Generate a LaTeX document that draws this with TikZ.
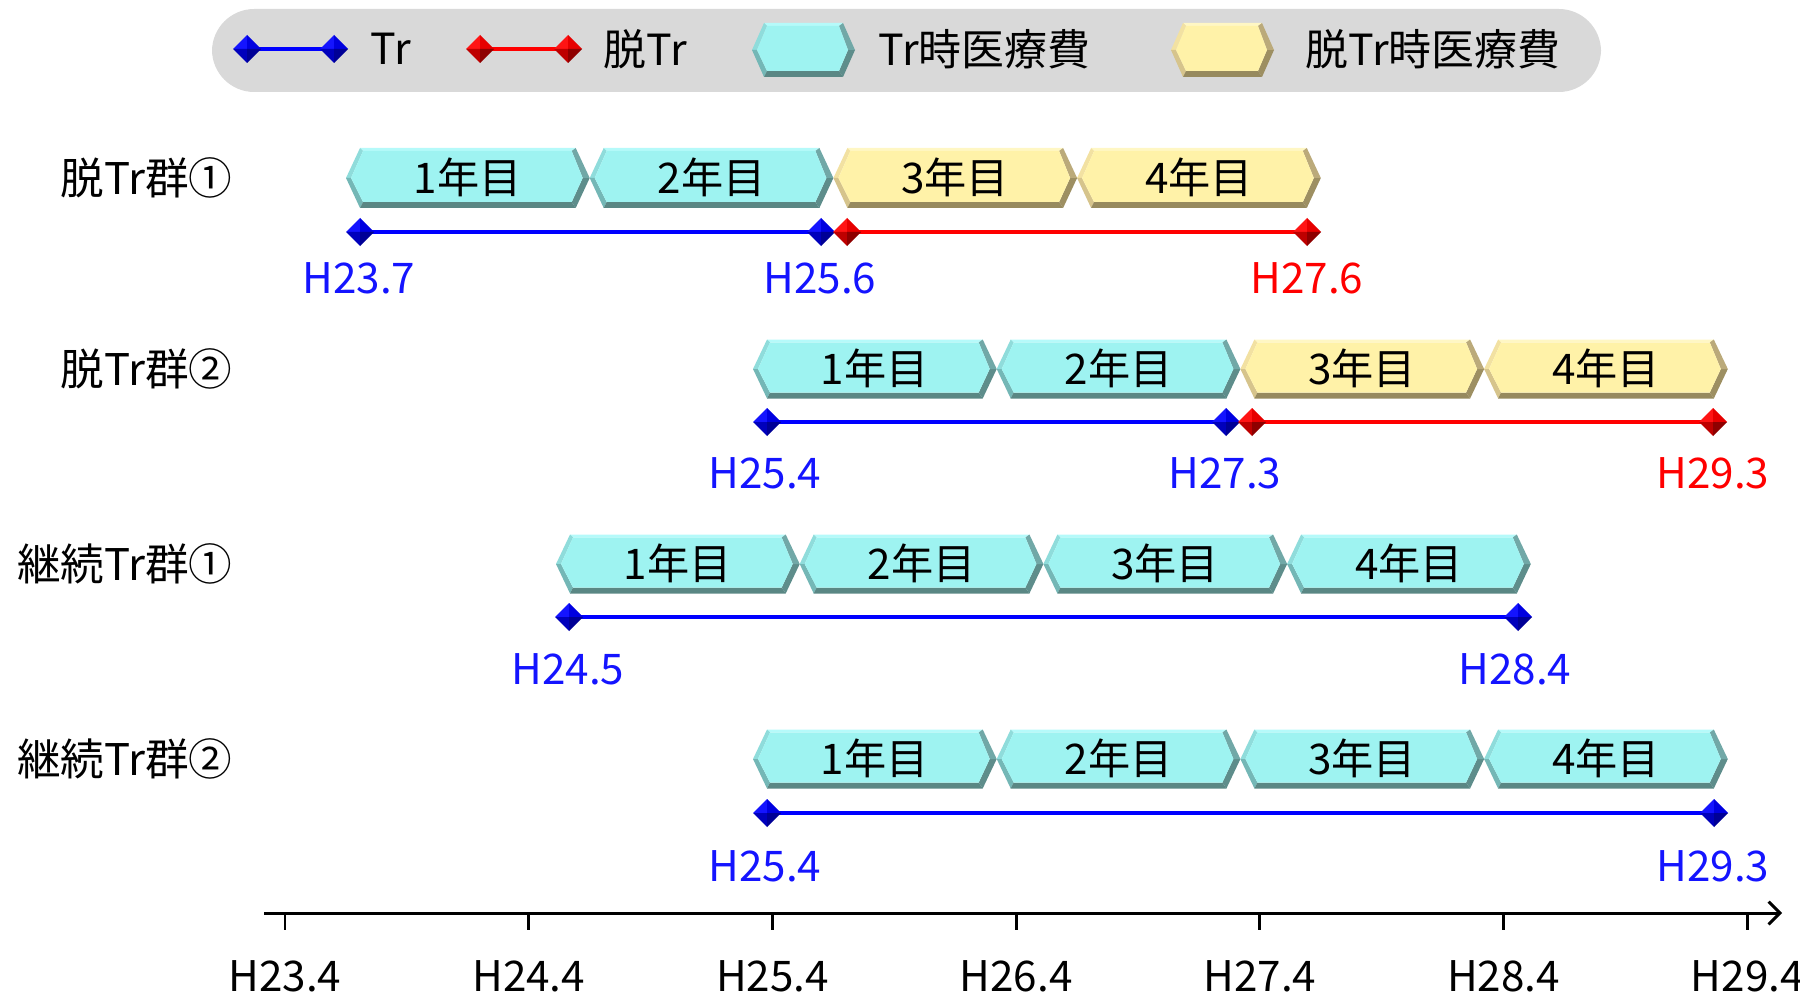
\documentclass[tikz,border=0pt]{standalone}
\usepackage{fontspec}
\setmainfont{Noto Sans CJK JP}
\usetikzlibrary{arrows.meta}
\definecolor{legbg}{HTML}{D9D9D9}
\definecolor{cyF}{HTML}{9EF3F1}
\definecolor{cyT}{HTML}{B5FAFA}
\definecolor{cyUL}{HTML}{8FDCDB}
\definecolor{cyLL}{HTML}{74B7B6}
\definecolor{cyB}{HTML}{5A8784}
\definecolor{cyLR}{HTML}{5E8D8B}
\definecolor{cyUR}{HTML}{71A8A7}
\definecolor{yeF}{HTML}{FFF2A8}
\definecolor{yeT}{HTML}{FFF7C4}
\definecolor{yeUL}{HTML}{F2E1A2}
\definecolor{yeLL}{HTML}{D6C48C}
\definecolor{yeB}{HTML}{978A5E}
\definecolor{yeLR}{HTML}{9D8F62}
\definecolor{yeUR}{HTML}{BBAA7A}
\definecolor{buA}{HTML}{1414FF}
\definecolor{buB}{HTML}{0000E0}
\definecolor{buC}{HTML}{0000BC}
\definecolor{buD}{HTML}{000096}
\definecolor{rdA}{HTML}{FF1414}
\definecolor{rdB}{HTML}{E60000}
\definecolor{rdC}{HTML}{BE0000}
\definecolor{rdD}{HTML}{8E0000}
\definecolor{lblue}{HTML}{1414FF}
\definecolor{lred}{HTML}{FF0000}

% hexagon with bevel: name, x left, y centre, width, height, palette, indent, text
\newcommand{\hexbox}[8]{%
\begin{scope}[shift={(#2,#3)}]
\pgfmathsetmacro{\hxW}{#4}\pgfmathsetmacro{\hxH}{#5/2}\pgfmathsetmacro{\hxD}{#7}
\fill[#6T] (\hxD,-\hxH) -- (\hxW-\hxD,-\hxH) -- (\hxW-\hxD-4,-\hxH+3) -- (\hxD+3,-\hxH+3) -- cycle;
\fill[#6UL] (0,0) -- (\hxD,-\hxH) -- (\hxD+3,-\hxH+3) -- (5,0) -- cycle;
\fill[#6LL] (0,0) -- (5,0) -- (\hxD+3,\hxH-6) -- (\hxD,\hxH) -- cycle;
\fill[#6B] (\hxD,\hxH) -- (\hxD+3,\hxH-6) -- (\hxW-\hxD-4,\hxH-6) -- (\hxW-\hxD,\hxH) -- cycle;
\fill[#6LR] (\hxW-\hxD,\hxH) -- (\hxW-\hxD-4,\hxH-6) -- (\hxW-7,0) -- (\hxW,0) -- cycle;
\fill[#6UR] (\hxW,0) -- (\hxW-7,0) -- (\hxW-\hxD-4,-\hxH+3) -- (\hxW-\hxD,-\hxH) -- cycle;
\fill[#6F] (5,0) -- (\hxD+3,-\hxH+3) -- (\hxW-\hxD-4,-\hxH+3) -- (\hxW-7,0) -- (\hxW-\hxD-4,\hxH-6) -- (\hxD+3,\hxH-6) -- cycle;
\end{scope}
\node[chevtext] (#1) at ({#2+#4/2},{#3-1}) {#8};}

% shaded diamond at a named coordinate
\newcommand{\dmdat}[2]{%
\begin{scope}[shift={(#1)}]
\fill[#2A] (-14,0) -- (0,-14) -- (0,0) -- cycle;
\fill[#2B] (0,-14) -- (14,0) -- (0,0) -- cycle;
\fill[#2C] (-14,0) -- (0,14) -- (0,0) -- cycle;
\fill[#2D] (14,0) -- (0,14) -- (0,0) -- cycle;
\end{scope}}

\tikzset{
  chevtext/.style={inner sep=0pt, font=\fontsize{12}{14}\selectfont},
  datelab/.style={inner sep=0pt, font=\fontsize{12}{14}\selectfont},
  rowlab/.style={inner sep=0pt, anchor=east, font=\fontsize{12.4}{14}\selectfont},
  leglab/.style={inner sep=0pt, anchor=west, font=\fontsize{12.2}{14}\selectfont},
  bline/.style={draw=blue, line width=1pt},
  rline/.style={draw=red, line width=1pt},
  axisline/.style={draw=black, line width=0.85pt},
}

\begin{document}
\begin{tikzpicture}[x=0.01cm,y=-0.01cm]
\useasboundingbox (0,0) rectangle (1800,994);

% legend
\fill[legbg, rounded corners=12] (212,9) rectangle (1601,92);
\coordinate (lg1) at (247,49);
\coordinate (lg2) at (334,49);
\coordinate (lg3) at (480,49);
\coordinate (lg4) at (568,49);
\draw[bline, line width=1.2pt] (lg1) -- (lg2);
\draw[rline, line width=1.2pt] (lg3) -- (lg4);
\dmdat{lg1}{bu}\dmdat{lg2}{bu}\dmdat{lg3}{rd}\dmdat{lg4}{rd}
\node[leglab] (lgt1) at (370,49) {Tr};
\node[leglab] (lgt2) at (603,49) {脱Tr};
\hexbox{lgh1}{752}{50}{103}{54}{cy}{12}{}
\node[leglab] (lgt3) at (878,49) {Tr時医療費};
\hexbox{lgh2}{1171}{50}{103}{54}{ye}{12}{}
\node[leglab] (lgt4) at (1305,49) {脱Tr時医療費};

% row labels
\node[rowlab] (g1) at (233,178) {脱Tr群①};
\node[rowlab] (g2) at (233,369) {脱Tr群②};
\node[rowlab] (g3) at (233,564) {継続Tr群①};
\node[rowlab] (g4) at (233,759) {継続Tr群②};

% row 1
\hexbox{r1c1}{346}{178}{243.7}{60}{cy}{14}{1年目}
\hexbox{r1c2}{589.7}{178}{243.7}{60}{cy}{14}{2年目}
\hexbox{r1c3}{833.4}{178}{243.7}{60}{ye}{14}{3年目}
\hexbox{r1c4}{1077.1}{178}{243.7}{60}{ye}{14}{4年目}
\coordinate (r1a) at (360,232);
\coordinate (r1b) at (821,232);
\coordinate (r1c) at (847,232);
\coordinate (r1d) at (1307,232);
\draw[bline] (r1a) -- (r1b);
\draw[rline] (r1c) -- (r1d);
\dmdat{r1a}{bu}\dmdat{r1b}{bu}\dmdat{r1c}{rd}\dmdat{r1d}{rd}
\node[datelab, text=lblue] (r1la) at (359,278) {H23.7};
\node[datelab, text=lblue] (r1lb) at (820,278) {H25.6};
\node[datelab, text=lred] (r1ld) at (1307,278) {H27.6};

% row 2
\hexbox{r2c1}{753}{369}{243.7}{59}{cy}{14}{1年目}
\hexbox{r2c2}{996.7}{369}{243.7}{59}{cy}{14}{2年目}
\hexbox{r2c3}{1240.4}{369}{243.7}{59}{ye}{14}{3年目}
\hexbox{r2c4}{1484.1}{369}{243.7}{59}{ye}{14}{4年目}
\coordinate (r2a) at (767,422);
\coordinate (r2b) at (1226,422);
\coordinate (r2c) at (1252,422);
\coordinate (r2d) at (1713,422);
\draw[bline] (r2a) -- (r2b);
\draw[rline] (r2c) -- (r2d);
\dmdat{r2a}{bu}\dmdat{r2b}{bu}\dmdat{r2c}{rd}\dmdat{r2d}{rd}
\node[datelab, text=lblue] (r2la) at (765,473) {H25.4};
\node[datelab, text=lblue] (r2lb) at (1225,473) {H27.3};
\node[datelab, text=lred] (r2ld) at (1713,473) {H29.3};

% row 3
\hexbox{r3c1}{556}{564}{243.7}{59}{cy}{14}{1年目}
\hexbox{r3c2}{799.7}{564}{243.7}{59}{cy}{14}{2年目}
\hexbox{r3c3}{1043.4}{564}{243.7}{59}{cy}{14}{3年目}
\hexbox{r3c4}{1287.1}{564}{243.7}{59}{cy}{14}{4年目}
\coordinate (r3a) at (569,617);
\coordinate (r3b) at (1518,617);
\draw[bline] (r3a) -- (r3b);
\dmdat{r3a}{bu}\dmdat{r3b}{bu}
\node[datelab, text=lblue] (r3la) at (568,669) {H24.5};
\node[datelab, text=lblue] (r3lb) at (1515,669) {H28.4};

% row 4
\hexbox{r4c1}{753}{759}{243.7}{59}{cy}{14}{1年目}
\hexbox{r4c2}{996.7}{759}{243.7}{59}{cy}{14}{2年目}
\hexbox{r4c3}{1240.4}{759}{243.7}{59}{cy}{14}{3年目}
\hexbox{r4c4}{1484.1}{759}{243.7}{59}{cy}{14}{4年目}
\coordinate (r4a) at (767,813);
\coordinate (r4b) at (1714,813);
\draw[bline] (r4a) -- (r4b);
\dmdat{r4a}{bu}\dmdat{r4b}{bu}
\node[datelab, text=lblue] (r4la) at (765,866) {H25.4};
\node[datelab, text=lblue] (r4lb) at (1713,866) {H29.3};

% axis
\coordinate (ax0) at (264,913);
\coordinate (ax1) at (1782,913);
\draw[axisline, -{Straight Barb[length=3.2pt,width=6.5pt]}] (ax0) -- (ax1);
\foreach \i/\lab in {0/23.4,1/24.4,2/25.4,3/26.4,4/27.4,5/28.4,6/29.4}{
  \coordinate (tk\i) at ({285+243.7*\i},913);
  \draw[axisline] (tk\i) -- ++(0,17);
  \node[datelab] (tl\i) at ({285+243.7*\i},976) {H\lab};
}
\end{tikzpicture}
\end{document}
